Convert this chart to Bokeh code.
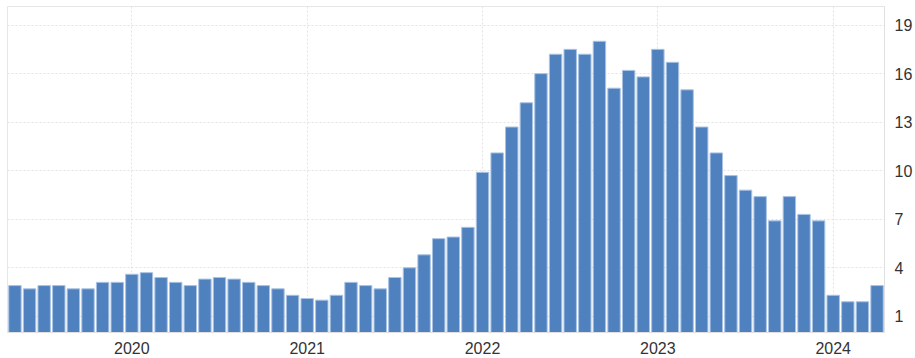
from bokeh.plotting import figure
from bokeh.models import ColumnDataSource, FixedTicker, Range1d
from bokeh.embed import file_html
from bokeh.resources import INLINE

# Monthly values, May 2019 .. Apr 2024
months = [
    "2019-05", "2019-06", "2019-07", "2019-08", "2019-09", "2019-10", "2019-11", "2019-12",
    "2020-01", "2020-02", "2020-03", "2020-04", "2020-05", "2020-06", "2020-07", "2020-08",
    "2020-09", "2020-10", "2020-11", "2020-12",
    "2021-01", "2021-02", "2021-03", "2021-04", "2021-05", "2021-06", "2021-07", "2021-08",
    "2021-09", "2021-10", "2021-11", "2021-12",
    "2022-01", "2022-02", "2022-03", "2022-04", "2022-05", "2022-06", "2022-07", "2022-08",
    "2022-09", "2022-10", "2022-11", "2022-12",
    "2023-01", "2023-02", "2023-03", "2023-04", "2023-05", "2023-06", "2023-07", "2023-08",
    "2023-09", "2023-10", "2023-11", "2023-12",
    "2024-01", "2024-02", "2024-03", "2024-04",
]
values = [
    2.9, 2.7, 2.9, 2.9, 2.7, 2.7, 3.1, 3.1,
    3.6, 3.7, 3.4, 3.1, 2.9, 3.3, 3.4, 3.3, 3.1, 2.9, 2.7, 2.3,
    2.1, 2.0, 2.3, 3.1, 2.9, 2.7, 3.4, 4.0, 4.8, 5.8, 5.9, 6.5,
    9.9, 11.1, 12.7, 14.2, 16.0, 17.2, 17.5, 17.2, 18.0, 15.1, 16.2, 15.8,
    17.5, 16.7, 15.0, 12.7, 11.1, 9.7, 8.8, 8.4, 6.9, 8.4, 7.3, 6.9,
    2.3, 1.9, 1.9, 2.9,
]
year_labels = ["2020", "2021", "2022", "2023", "2024"]
y_ticks = [1, 4, 7, 10, 13, 16, 19]

idx = list(range(len(values)))
year_ticks = [months.index(y + "-01") for y in year_labels]

src = ColumnDataSource(data=dict(x=idx, top=values, month=months))

p = figure(
    width=915, height=358,
    output_backend="svg", toolbar_location=None,
    x_range=Range1d(-0.51, 59.51), y_range=Range1d(0, 20.15),
    y_axis_location="right",
    min_border_left=7, min_border_top=6, min_border_right=31, min_border_bottom=26,
)
p.background_fill_color = "white"
p.border_fill_color = "white"
p.outline_line_color = "#e6e6e6"

p.vbar(x="x", top="top", width=0.85, bottom=0, source=src,
       fill_color="#5081bf", line_color="#a9c3e3", line_width=1)

# x axis
xa = p.xaxis[0]
xa.ticker = FixedTicker(ticks=year_ticks)
xa.major_label_overrides = {t: l for t, l in zip(year_ticks, year_labels)}
xa.major_tick_line_color = None
xa.minor_tick_line_color = None
xa.axis_line_color = "#e0e0e0"
xa.major_label_text_font = "Liberation Sans"
xa.major_label_text_font_size = "16px"
xa.major_label_text_color = "#333333"
xa.major_label_standoff = 3

# y axis
ya = p.yaxis[0]
ya.ticker = FixedTicker(ticks=y_ticks)
ya.major_tick_line_color = None
ya.minor_tick_line_color = None
ya.axis_line_color = "#e0e0e0"
ya.major_label_text_font = "Liberation Sans"
ya.major_label_text_font_size = "16px"
ya.major_label_text_color = "#333333"
ya.major_label_standoff = 4

p.xgrid.ticker = FixedTicker(ticks=year_ticks)
p.xgrid.grid_line_color = "#e3e3e3"
p.xgrid.grid_line_dash = "2 2"
p.ygrid.grid_line_color = "#e3e3e3"
p.ygrid.grid_line_dash = "2 2"

open("out.html", "w").write(file_html(p, INLINE))
